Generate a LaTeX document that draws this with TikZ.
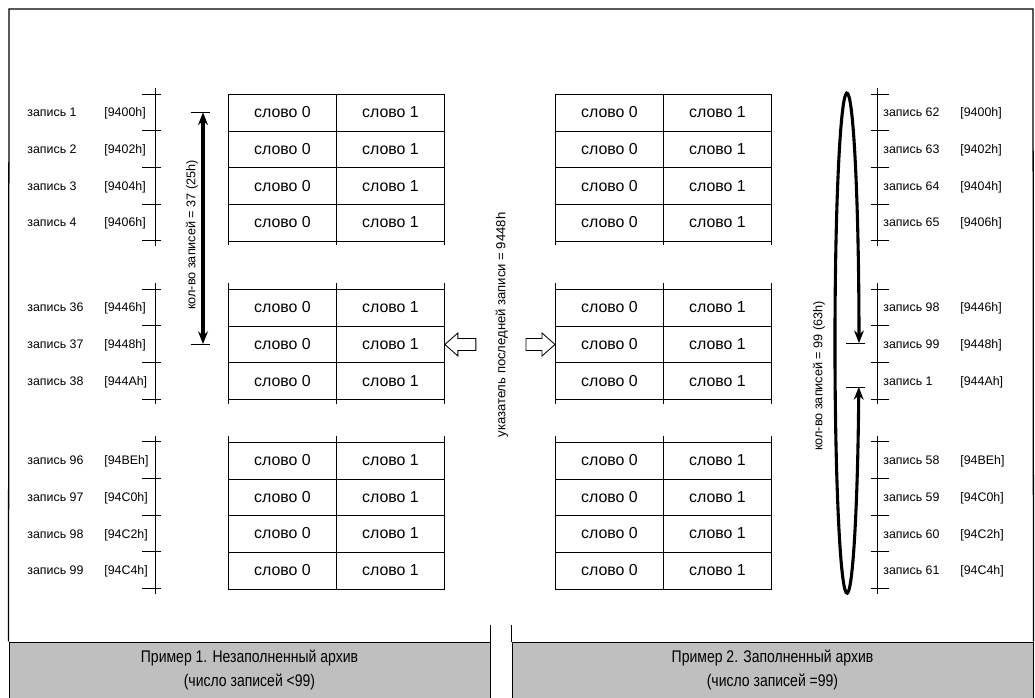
\documentclass[tikz,border=0pt]{standalone}
\usepackage{fontspec}
\setmainfont{Liberation Sans}
\newfontfamily\narrowfont[FakeStretch=0.83]{Liberation Sans}
\usetikzlibrary{arrows.meta}

\begin{document}
\begin{tikzpicture}[x=0.025cm, y=-0.025cm, line width=0.6pt,
    cell/.style={draw, minimum width=2.7cm, minimum height=0.9175cm, inner sep=0pt, anchor=north west, text height=1.6ex, text depth=0.3ex, font=\fontsize{11.3}{13}\selectfont},
    reclabel/.style={anchor=west, inner sep=0pt, text height=1.6ex, text depth=0.4ex, font=\fontsize{8.8}{10}\selectfont},
    sidelabel/.style={rotate=90, inner sep=0pt, font=\fontsize{9}{10}\selectfont},
    countarrow/.style={line width=2.2pt, {Stealth[length=9pt,width=7pt]}-{Stealth[length=9pt,width=7pt]}},
    panel/.style={draw, fill=gray!50, minimum height=1.4cm, inner sep=0pt, align=center, font=\narrowfont\fontsize{12}{17.7}\selectfont}
]
    \useasboundingbox (0,0) rectangle (1035,698);

    % records: index / top of row / left number / right number / address
    \foreach \i/\y/\nl/\nr/\adr in {1/94/1/62/9400h, 2/130.7/2/63/9402h, 3/167.4/3/64/9404h, 4/204.1/4/65/9406h,
        5/289/36/98/9446h, 6/325.7/37/99/9448h, 7/362.4/38/1/944Ah,
        8/441.8/96/58/94BEh, 9/478.5/97/59/94C0h, 10/515.2/98/60/94C2h, 11/551.9/99/61/94C4h} {
        \node[cell] (l\i-a) at (228,\y) {слово 0};
        \node[cell] (l\i-b) at (336,\y) {слово 1};
        \node[cell] (r\i-a) at (555,\y) {слово 0};
        \node[cell] (r\i-b) at (663,\y) {слово 1};
        \node[reclabel] (ln\i) at (27,\y+18.35) {запись \nl};
        \node[reclabel] (la\i) at (104,\y+18.35) {[\adr]};
        \node[reclabel] (rn\i) at (883,\y+18.35) {запись \nr};
        \node[reclabel] (ra\i) at (960,\y+18.35) {[\adr]};
    }

    % address scales
    \foreach \ya/\yb in {94/240.8, 289/399.1, 441.8/588.6} {
        \draw (155,\ya-6) -- (155,\yb+5);
        \draw (877,\ya-6) -- (877,\yb+5);
    }
    \foreach \y in {94, 130.7, 167.4, 204.1, 240.8, 289, 325.7, 362.4, 399.1, 441.8, 478.5, 515.2, 551.9, 588.6} {
        \draw (142,\y) -- (161,\y);
        \draw (871,\y) -- (889,\y);
    }

    % open ends of the tables
    \foreach \x in {228, 336, 444, 555, 663, 771} {
        \draw (\x,240.8) -- (\x,245);
        \draw (\x,283) -- (\x,289);
        \draw (\x,399.1) -- (\x,404);
        \draw (\x,436) -- (\x,441.8);
    }

    % example 1: number of records
    \coordinate (ca) at (203,112.35);
    \coordinate (cb) at (203,344.05);
    \draw (ca) ++(-12,0) -- ++(19,0);
    \draw (cb) ++(-12,0) -- ++(19,0);
    \draw[countarrow] (ca) -- (cb);
    \node[sidelabel] (cnt1) at (192,235) {кол-во записей = 37 (25h)};

    % pointer to the last record
    \node[sidelabel, font=\fontsize{9.3}{10}\selectfont] (ptr) at (502,325) {указатель последней записи = 9448h};
    \draw (l6-b.east) -- ++(13,-11.5) -- ++(0,5.5) -- ++(18,0) -- ++(0,12) -- ++(-18,0) -- ++(0,5.5) -- cycle;
    \draw (r6-a.west) -- ++(-13,-11.5) -- ++(0,5.5) -- ++(-16,0) -- ++(0,12) -- ++(16,0) -- ++(0,5.5) -- cycle;

    % example 2: number of records
    \coordinate (ea) at (858.8,387);
    \coordinate (eb) at (859,343);
    \draw (ea) ++(-13,0) -- ++(19,0);
    \draw (eb) ++(-13,0) -- ++(19,0);
    \draw[countarrow] (ea) arc[start angle=-10.1, end angle=-360, x radius=0.3cm, y radius=6.25cm];
    \node[sidelabel] (cnt2) at (819,376) {кол-во записей = 99 (63h)};

    % captions
    \node[panel, minimum width=12.025cm] (p1) at (249.5,670) {Пример 1. Незаполненный архив\\(число записей <99)};
    \node[panel, minimum width=13.025cm] (p2) at (772.5,670) {Пример 2. Заполненный архив\\(число записей =99)};
    \draw (p1.north east) -- ++(0,-17);
    \draw (p2.north west) -- ++(0,-17);
    \draw[line width=0.9pt] (p1.north west) -- (9,9) -- (1033,9) -- (p2.north east);
\end{tikzpicture}
\end{document}
